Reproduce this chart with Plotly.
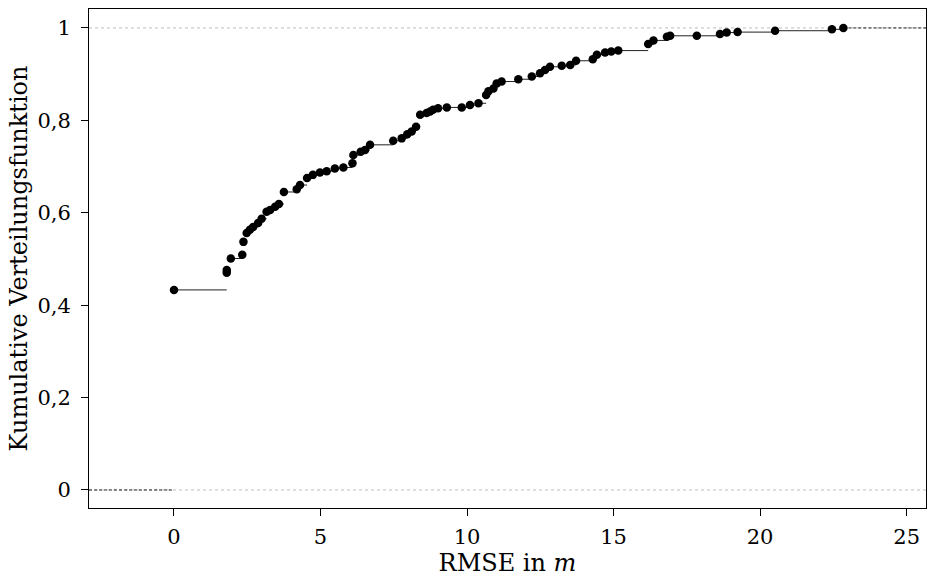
import plotly.graph_objects as go

# Empirical CDF of RMSE values: distinct values and cumulative share
rmse = [0.0, 1.80, 1.80, 1.94, 2.33, 2.37, 2.48, 2.59, 2.70, 2.87, 2.99, 3.16, 3.28,
        3.45, 3.58, 3.75, 4.19, 4.30, 4.54, 4.74, 4.98, 5.21, 5.49, 5.78, 6.09,
        6.12, 6.37, 6.52, 6.69, 7.48, 7.77, 7.96, 8.11, 8.26, 8.40, 8.62, 8.74,
        8.84, 9.01, 9.31, 9.82, 10.10, 10.39, 10.65, 10.73, 10.90, 11.01, 11.18,
        11.75, 12.21, 12.49, 12.66, 12.83, 13.23, 13.52, 13.72, 14.29, 14.43,
        14.71, 14.92, 15.16, 16.18, 16.36, 16.82, 16.93, 17.84, 18.63, 18.86,
        19.23, 20.51, 22.45, 22.84]
cdf = [0.433, 0.470, 0.476, 0.501, 0.509, 0.537, 0.556, 0.563, 0.569, 0.578, 0.587,
       0.602, 0.606, 0.613, 0.619, 0.645, 0.651, 0.660, 0.675, 0.682, 0.687, 0.690,
       0.696, 0.698, 0.707, 0.725, 0.732, 0.736, 0.747, 0.756, 0.761, 0.770, 0.776,
       0.786, 0.812, 0.816, 0.819, 0.823, 0.826, 0.828, 0.828, 0.833, 0.837, 0.855,
       0.863, 0.869, 0.880, 0.884, 0.889, 0.895, 0.902, 0.909, 0.916, 0.918, 0.920,
       0.929, 0.932, 0.942, 0.947, 0.949, 0.951, 0.965, 0.973, 0.981, 0.983, 0.983,
       0.987, 0.990, 0.991, 0.994, 0.997, 1.0]

x_ticks = [0, 5, 10, 15, 20, 25]
y_ticks = [0, 0.2, 0.4, 0.6, 0.8, 1]
y_tick_text = ["0", "0,2", "0,4", "0,6", "0,8", "1"]

x_range = [-2.9, 25.66]
y_range = [-0.039, 1.041]

FONT = "DejaVu Serif"

# horizontal step segments only (no verticals)
seg_x, seg_y = [], []
for i in range(len(rmse) - 1):
    seg_x += [rmse[i], rmse[i + 1], None]
    seg_y += [cdf[i], cdf[i], None]

fig = go.Figure()

# reference lines at 0 and 1
for level in (0, 1):
    fig.add_trace(go.Scatter(x=x_range, y=[level, level], mode="lines",
                             line=dict(color="#bdbdbd", width=1, dash="3px,3px"),
                             hoverinfo="skip", showlegend=False))

fig.add_trace(go.Scatter(x=seg_x, y=seg_y, mode="lines",
                         line=dict(color="#222222", width=1),
                         showlegend=False, hoverinfo="skip"))

# tails of the step function
fig.add_trace(go.Scatter(x=[x_range[0], rmse[0]], y=[0, 0], mode="lines",
                         line=dict(color="#222222", width=1, dash="3px,2px"),
                         showlegend=False, hoverinfo="skip"))
fig.add_trace(go.Scatter(x=[rmse[-1], x_range[1]], y=[cdf[-1], cdf[-1]], mode="lines",
                         line=dict(color="#222222", width=1, dash="3px,2px"),
                         showlegend=False, hoverinfo="skip"))

fig.add_trace(go.Scatter(x=rmse, y=cdf, mode="markers",
                         marker=dict(color="black", size=8.5),
                         showlegend=False))

axis_common = dict(showgrid=False, zeroline=False, showline=True, linecolor="black",
                   linewidth=1, mirror=True, ticks="outside", ticklen=7,
                   tickcolor="black", tickwidth=1,
                   tickfont=dict(family=FONT, size=21, color="black"))

fig.update_xaxes(range=x_range, tickvals=x_ticks, ticktext=[str(v) for v in x_ticks],
                 ticklabelstandoff=3,
                 title=dict(text="RMSE in <i>m</i>", font=dict(family=FONT, size=24, color="black"),
                            standoff=4),
                 **axis_common)
fig.update_yaxes(range=y_range, tickvals=y_ticks, ticktext=y_tick_text,
                 ticklabelstandoff=6,
                 title=dict(text="Kumulative Verteilungsfunktion",
                            font=dict(family=FONT, size=24, color="black"), standoff=2),
                 **axis_common)

fig.update_layout(width=930, height=577, margin=dict(l=89, r=4, t=9, b=69),
                  plot_bgcolor="white", paper_bgcolor="white",
                  font=dict(family=FONT, color="black"))

fig.write_html("out.html")
